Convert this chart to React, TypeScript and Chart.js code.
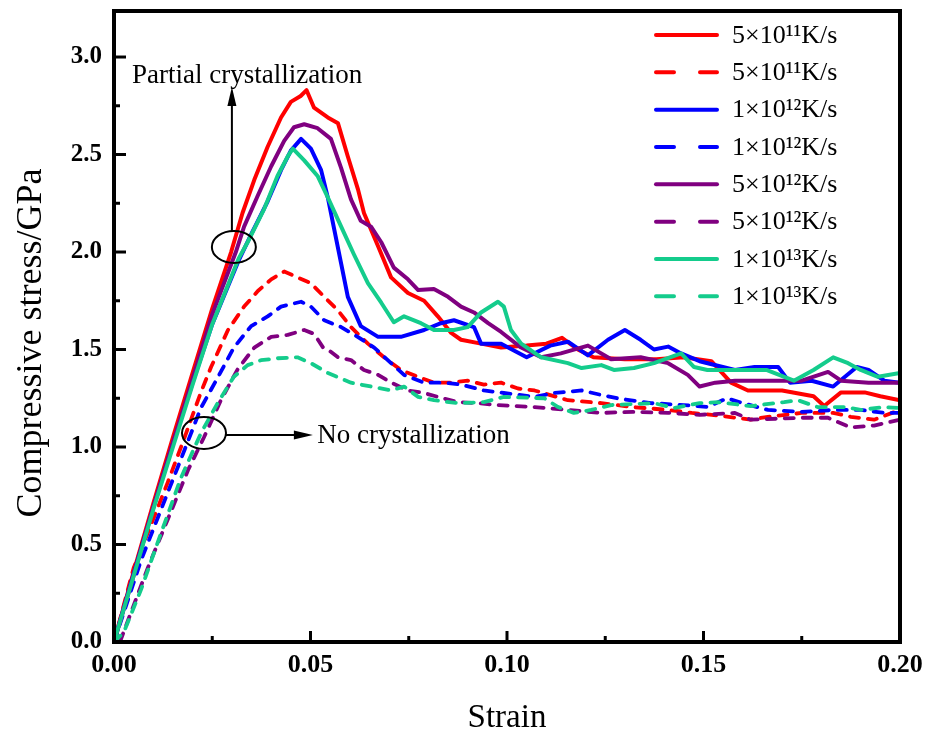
import { useEffect, useRef } from 'react';
import { Chart, registerables } from 'chart.js';

Chart.register(...registerables);

type Pt = [number, number];

// ---- data (strain, compressive stress in GPa) ----
const seriesLabels = [
  '5×10¹¹K/s', '5×10¹¹K/s',
  '1×10¹²K/s', '1×10¹²K/s',
  '5×10¹²K/s', '5×10¹²K/s',
  '1×10¹³K/s', '1×10¹³K/s',
];

const solid5e11: Pt[] = [
  [0, 0], [0.005, 0.36], [0.01, 0.71], [0.015, 1.05], [0.02, 1.38], [0.025, 1.71], [0.0298, 2.0],
  [0.0327, 2.2], [0.0357, 2.37], [0.0391, 2.54], [0.0425, 2.69], [0.045, 2.77], [0.0475, 2.8],
  [0.049, 2.83], [0.0509, 2.74], [0.0544, 2.69], [0.057, 2.66], [0.0595, 2.49], [0.0621, 2.32],
  [0.0636, 2.2], [0.0672, 2.03], [0.0705, 1.87], [0.0748, 1.79], [0.0789, 1.75], [0.0824, 1.67],
  [0.0858, 1.585], [0.0883, 1.55], [0.0934, 1.53], [0.0985, 1.51], [0.105, 1.52], [0.11, 1.53],
  [0.114, 1.56], [0.118, 1.5], [0.122, 1.46], [0.13, 1.45], [0.138, 1.45], [0.145, 1.46],
  [0.152, 1.44], [0.157, 1.33], [0.1613, 1.29], [0.17, 1.29], [0.178, 1.26], [0.1807, 1.21],
  [0.185, 1.28], [0.191, 1.28], [0.195, 1.26], [0.2, 1.24],
];

const dashed5e11: Pt[] = [
  [0, 0], [0.005, 0.38], [0.0094, 0.6], [0.0137, 0.82], [0.0178, 1.04], [0.0221, 1.28],
  [0.0247, 1.41], [0.029, 1.6], [0.0331, 1.72], [0.0366, 1.8], [0.04, 1.86], [0.0433, 1.9],
  [0.0467, 1.87], [0.0501, 1.84], [0.0535, 1.77], [0.057, 1.7], [0.0603, 1.615], [0.0646, 1.53],
  [0.0687, 1.46], [0.073, 1.395], [0.0774, 1.36], [0.0814, 1.33], [0.0858, 1.33], [0.09, 1.34],
  [0.0941, 1.32], [0.0985, 1.33], [0.1028, 1.3], [0.107, 1.29], [0.1155, 1.24], [0.124, 1.225],
  [0.132, 1.205], [0.141, 1.19], [0.147, 1.175], [0.1545, 1.16], [0.162, 1.14], [0.1664, 1.155],
  [0.175, 1.175], [0.183, 1.175], [0.1875, 1.155], [0.1934, 1.14], [0.2, 1.19],
];

const solid1e12: Pt[] = [
  [0, 0], [0.005, 0.35], [0.01, 0.69], [0.015, 1.02], [0.02, 1.33], [0.025, 1.63], [0.0318, 1.96],
  [0.0349, 2.09], [0.0391, 2.26], [0.0425, 2.42], [0.045, 2.52], [0.0476, 2.58], [0.0501, 2.53],
  [0.0527, 2.42], [0.0544, 2.28], [0.056, 2.12], [0.0578, 1.94], [0.0595, 1.77], [0.0628, 1.62],
  [0.0672, 1.565], [0.073, 1.565], [0.0789, 1.6], [0.0832, 1.635], [0.0865, 1.65], [0.0916, 1.615],
  [0.0934, 1.53], [0.0985, 1.53], [0.105, 1.46], [0.111, 1.52], [0.1155, 1.54], [0.1206, 1.47],
  [0.1257, 1.55], [0.13, 1.6], [0.134, 1.55], [0.1374, 1.5], [0.141, 1.515], [0.1443, 1.48],
  [0.149, 1.44], [0.158, 1.395], [0.163, 1.41], [0.169, 1.41], [0.172, 1.33], [0.1775, 1.34],
  [0.183, 1.31], [0.189, 1.41], [0.192, 1.395], [0.196, 1.34], [0.2, 1.33],
];

const dashed1e12: Pt[] = [
  [0, 0], [0.0069, 0.42], [0.0112, 0.64], [0.0163, 0.9], [0.0196, 1.07], [0.0221, 1.2],
  [0.0265, 1.36], [0.0305, 1.51], [0.0349, 1.62], [0.0391, 1.67], [0.0425, 1.72], [0.0476, 1.745],
  [0.0501, 1.72], [0.0535, 1.65], [0.0578, 1.615], [0.062, 1.565], [0.0662, 1.51], [0.0705, 1.43],
  [0.0738, 1.37], [0.0789, 1.33], [0.084, 1.33], [0.0883, 1.32], [0.0941, 1.29], [0.0992, 1.277],
  [0.107, 1.257], [0.112, 1.277], [0.119, 1.29], [0.124, 1.267], [0.128, 1.25], [0.1366, 1.225],
  [0.145, 1.215], [0.151, 1.205], [0.156, 1.25], [0.16, 1.225], [0.1664, 1.19], [0.175, 1.18],
  [0.183, 1.19], [0.19, 1.19], [0.196, 1.175], [0.2, 1.175],
];

const solid5e12: Pt[] = [
  [0, 0], [0.005, 0.34], [0.01, 0.69], [0.015, 1.02], [0.02, 1.35], [0.025, 1.68], [0.031, 2.0],
  [0.0331, 2.13], [0.0366, 2.29], [0.04, 2.44], [0.0433, 2.57], [0.0458, 2.64], [0.0484, 2.655],
  [0.0518, 2.635], [0.0552, 2.58], [0.0578, 2.43], [0.0603, 2.27], [0.0628, 2.16], [0.0654, 2.13],
  [0.068, 2.05], [0.0712, 1.92], [0.0748, 1.86], [0.0774, 1.805], [0.0814, 1.81], [0.085, 1.77],
  [0.0883, 1.72], [0.0916, 1.69], [0.0952, 1.635], [0.0985, 1.59], [0.1036, 1.51], [0.1087, 1.46],
  [0.1137, 1.48], [0.1206, 1.52], [0.1265, 1.45], [0.134, 1.46], [0.141, 1.43], [0.146, 1.37],
  [0.149, 1.31], [0.153, 1.33], [0.158, 1.34], [0.166, 1.34], [0.175, 1.34], [0.1817, 1.385],
  [0.185, 1.34], [0.192, 1.33], [0.2, 1.33],
];

const dashed5e12: Pt[] = [
  [0.0015, 0], [0.0043, 0.15], [0.0086, 0.38], [0.0137, 0.63], [0.0188, 0.88], [0.0229, 1.05],
  [0.0272, 1.24], [0.0315, 1.4], [0.0357, 1.51], [0.04, 1.565], [0.0442, 1.575], [0.0484, 1.6],
  [0.0509, 1.58], [0.0519, 1.55], [0.0532, 1.51], [0.0544, 1.5], [0.057, 1.46], [0.0603, 1.446],
  [0.0636, 1.395], [0.0672, 1.37], [0.0705, 1.33], [0.0748, 1.29], [0.0789, 1.277], [0.0824, 1.257],
  [0.0875, 1.23], [0.0926, 1.225], [0.0977, 1.215], [0.107, 1.205], [0.1155, 1.19], [0.124, 1.175],
  [0.132, 1.18], [0.141, 1.175], [0.149, 1.165], [0.158, 1.175], [0.162, 1.14], [0.175, 1.15],
  [0.1817, 1.15], [0.1875, 1.1], [0.1934, 1.11], [0.2, 1.14],
];

const solid1e13: Pt[] = [
  [0, 0], [0.005, 0.34], [0.01, 0.68], [0.015, 1.0], [0.02, 1.32], [0.025, 1.63], [0.0318, 1.97],
  [0.034, 2.05], [0.0382, 2.22], [0.0416, 2.39], [0.0442, 2.49], [0.0455, 2.53], [0.0484, 2.47],
  [0.0518, 2.39], [0.0544, 2.28], [0.0578, 2.13], [0.061, 1.99], [0.0646, 1.84], [0.068, 1.74],
  [0.0712, 1.64], [0.0738, 1.67], [0.0781, 1.635], [0.0814, 1.6], [0.0865, 1.6], [0.09, 1.615],
  [0.0934, 1.69], [0.0977, 1.745], [0.0992, 1.72], [0.101, 1.6], [0.1036, 1.53], [0.1087, 1.46],
  [0.1155, 1.43], [0.119, 1.405], [0.124, 1.42], [0.1272, 1.395], [0.1323, 1.405], [0.1374, 1.43],
  [0.1443, 1.48], [0.1476, 1.41], [0.151, 1.395], [0.158, 1.395], [0.166, 1.395], [0.173, 1.34],
  [0.178, 1.395], [0.183, 1.46], [0.1868, 1.43], [0.19, 1.395], [0.1944, 1.36], [0.2, 1.38],
];

const dashed1e13: Pt[] = [
  [0, 0], [0.0025, 0.05], [0.0069, 0.27], [0.012, 0.56], [0.017, 0.84], [0.0221, 1.07],
  [0.0265, 1.23], [0.0305, 1.36], [0.034, 1.42], [0.0374, 1.445], [0.0416, 1.455], [0.0467, 1.46],
  [0.0501, 1.43], [0.0544, 1.38], [0.0603, 1.33], [0.0654, 1.31], [0.0705, 1.29], [0.0738, 1.31],
  [0.0774, 1.257], [0.0814, 1.24], [0.0875, 1.225], [0.0941, 1.23], [0.0992, 1.257], [0.1095, 1.25],
  [0.113, 1.205], [0.117, 1.175], [0.1214, 1.19], [0.1265, 1.215], [0.1374, 1.225], [0.1425, 1.2],
  [0.149, 1.225], [0.1537, 1.23], [0.162, 1.21], [0.1705, 1.23], [0.174, 1.24], [0.179, 1.205],
  [0.186, 1.205], [0.19, 1.19], [0.196, 1.205], [0.2, 1.2],
];

const seriesData: Pt[][] = [
  solid5e11, dashed5e11, solid1e12, dashed1e12, solid5e12, dashed5e12, solid1e13, dashed1e13,
];

const xTickValues = [0, 0.05, 0.1, 0.15, 0.2];
const xTickLabels = ['0.00', '0.05', '0.10', '0.15', '0.20'];
const yTickValues = [0, 0.5, 1.0, 1.5, 2.0, 2.5, 3.0];
const yTickLabels = ['0.0', '0.5', '1.0', '1.5', '2.0', '2.5', '3.0'];

const xTitle = 'Strain';
const yTitle = 'Compressive stress/GPa';
const notePartial = 'Partial crystallization';
const noteNone = 'No crystallization';

// ---- styles ----
const COLORS = ['#FF0000', '#FF0000', '#0000FF', '#0000FF', '#800080', '#800080', '#14CC8C', '#14CC8C'];
const FONT = '"Liberation Serif", "Times New Roman", serif';
const W = 926;
const H = 733;

const overlayPlugin = {
  id: 'overlay',
  afterDraw(chart: any) {
    const { ctx, chartArea: a, scales } = chart;
    const xs = scales.x;
    const ys = scales.y;
    const px = (v: number) => xs.getPixelForValue(v);
    const py = (v: number) => ys.getPixelForValue(v);
    ctx.save();
    ctx.strokeStyle = '#000';
    ctx.fillStyle = '#000';
    ctx.lineCap = 'butt';

    const line = (x1: number, y1: number, x2: number, y2: number) => {
      ctx.beginPath();
      ctx.moveTo(x1, y1);
      ctx.lineTo(x2, y2);
      ctx.stroke();
    };

    // inward ticks
    ctx.lineWidth = 3;
    xTickValues.forEach((v, i) => {
      const x = px(v);
      line(x, a.bottom, x, a.bottom - 11);
      if (i < xTickValues.length - 1) {
        const xm = px((v + xTickValues[i + 1]) / 2);
        line(xm, a.bottom, xm, a.bottom - 6);
      }
    });
    yTickValues.forEach((v, i) => {
      const y = py(v);
      line(a.left, y, a.left + 12, y);
      if (i < yTickValues.length - 1) {
        const ym = py((v + yTickValues[i + 1]) / 2);
        line(a.left, ym, a.left + 6, ym);
      }
    });

    // frame
    ctx.lineWidth = 4;
    ctx.strokeRect(a.left, a.top, a.right - a.left, a.bottom - a.top);

    // axis titles
    ctx.textAlign = 'center';
    ctx.textBaseline = 'alphabetic';
    ctx.font = `33px ${FONT}`;
    ctx.fillText(xTitle, (a.left + a.right) / 2, 727);
    ctx.save();
    ctx.font = `36px ${FONT}`;
    ctx.translate(41, 343);
    ctx.rotate(-Math.PI / 2);
    ctx.fillText(yTitle, 0, 0);
    ctx.restore();

    // legend
    const lx0 = a.right - 246;
    const lx1 = a.right - 181;
    const tx = a.right - 168;
    ctx.font = `26px ${FONT}`;
    ctx.textAlign = 'left';
    ctx.textBaseline = 'middle';
    chart.data.datasets.forEach((ds: any, i: number) => {
      const y = a.top + 24 + i * 37.33;
      ctx.save();
      ctx.strokeStyle = ds.borderColor;
      ctx.lineWidth = 4;
      ctx.lineCap = 'round';
      ctx.setLineDash(i % 2 === 1 ? [18, 26] : []);
      line(lx0 + 2, y, lx1 - 2, y);
      ctx.restore();
      ctx.fillText(ds.label, tx, y + 1);
    });

    // annotations
    ctx.lineWidth = 2;
    ctx.setLineDash([]);
    const arrowHead = (tx2: number, ty2: number, dx: number, dy: number) => {
      const len = 19;
      const hw = 4.5;
      const bx = tx2 - dx * len;
      const by = ty2 - dy * len;
      ctx.beginPath();
      ctx.moveTo(tx2, ty2);
      ctx.lineTo(bx - dy * hw, by + dx * hw);
      ctx.lineTo(bx + dy * hw, by - dx * hw);
      ctx.closePath();
      ctx.fill();
    };
    // partial crystallization
    const e1x = px(0.0305);
    const e1y = py(2.026);
    ctx.beginPath();
    ctx.ellipse(e1x, e1y, 22, 16, 0, 0, Math.PI * 2);
    ctx.stroke();
    const a1x = px(0.03);
    const a1top = py(2.846);
    line(a1x, e1y - 16, a1x, a1top + 10);
    arrowHead(a1x, a1top, 0, -1);
    ctx.font = `27px ${FONT}`;
    ctx.textAlign = 'left';
    ctx.textBaseline = 'alphabetic';
    ctx.fillText(notePartial, px(0.0046), py(2.868));

    // no crystallization
    const e2x = px(0.0229);
    const e2y = py(1.072);
    ctx.beginPath();
    ctx.ellipse(e2x, e2y, 22, 16, 0, 0, Math.PI * 2);
    ctx.stroke();
    const a2y = py(1.062);
    const a2tip = px(0.0506);
    line(e2x + 22, a2y, a2tip - 10, a2y);
    arrowHead(a2tip, a2y, 1, 0);
    ctx.fillText(noteNone, px(0.0517), py(1.02));

    ctx.restore();
  },
};

export default function App() {
  const canvasRef = useRef<HTMLCanvasElement | null>(null);

  useEffect(() => {
    const canvas = canvasRef.current;
    if (!canvas) return;
    const datasets = seriesData.map((pts, i) => {
      const dashed = i % 2 === 1;
      return {
        label: seriesLabels[i],
        data: pts.map(([x, y]) => ({ x, y })),
        borderColor: COLORS[i],
        backgroundColor: COLORS[i],
        borderWidth: dashed ? 3.8 : 4,
        borderDash: dashed ? [9, 9] : [],
        borderCapStyle: 'round',
        borderJoinStyle: 'round',
        pointRadius: 0,
        pointHoverRadius: 0,
        tension: 0,
        fill: false,
        showLine: true,
        order: seriesData.length - 1 - i,
      };
    });

    const chart = new Chart(canvas, {
      type: 'scatter',
      data: { datasets } as any,
      options: {
        animation: false,
        responsive: false,
        devicePixelRatio: 1,
        layout: { padding: { left: 0, right: W - 900, top: 11, bottom: 0 } },
        plugins: {
          legend: { display: false },
          tooltip: { enabled: false },
          title: { display: false },
        },
        events: [],
        scales: {
          x: {
            type: 'linear',
            min: 0,
            max: 0.2,
            grid: { display: false, drawTicks: false },
            border: { display: false },
            afterFit: (s: any) => {
              s.height = H - 642;
              s.paddingLeft = 0;
              s.paddingRight = 0;
              s.paddingTop = 0;
              s.paddingBottom = 0;
            },
            afterBuildTicks: (s: any) => { s.ticks = xTickValues.map((v) => ({ value: v })); },
            ticks: {
              autoSkip: false,
              maxRotation: 0,
              padding: 8,
              color: '#000',
              font: { family: FONT, size: 26, weight: 'bold' },
              callback: (_v: any, i: number) => xTickLabels[i],
            },
          },
          y: {
            type: 'linear',
            min: 0,
            max: 3.236,
            grid: { display: false, drawTicks: false },
            border: { display: false },
            afterFit: (s: any) => {
              s.width = 114;
              s.paddingLeft = 0;
              s.paddingRight = 0;
              s.paddingTop = 0;
              s.paddingBottom = 0;
            },
            afterBuildTicks: (s: any) => { s.ticks = yTickValues.map((v) => ({ value: v })); },
            ticks: {
              autoSkip: false,
              padding: 12,
              color: '#000',
              font: { family: FONT, size: 25, weight: 'bold' },
              callback: (_v: any, i: number) => yTickLabels[i],
            },
          },
        },
      } as any,
      plugins: [overlayPlugin],
    });
    return () => chart.destroy();
  }, []);

  return (
    <div style={{ position: 'fixed', left: 0, top: 0, width: W, height: H, background: '#fff' }}>
      <canvas ref={canvasRef} width={W} height={H} style={{ width: W, height: H, display: 'block' }} />
    </div>
  );
}
